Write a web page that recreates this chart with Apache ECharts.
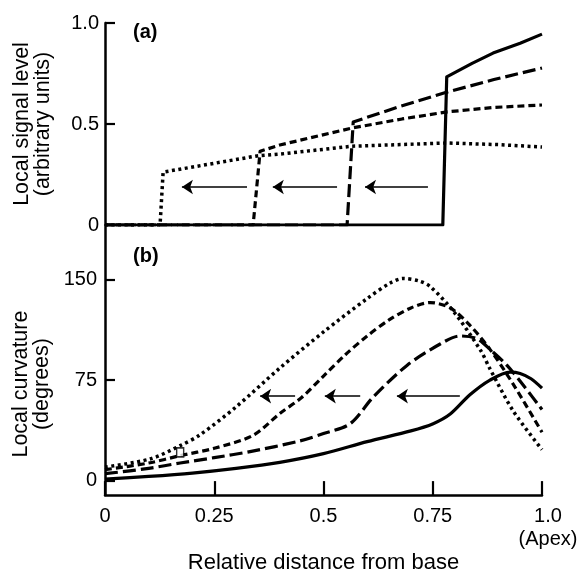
<!DOCTYPE html>
<html>
<head>
<meta charset="utf-8">
<script src="https://cdn.jsdelivr.net/npm/echarts@6/dist/echarts.min.js"></script>
<style>
html,body{margin:0;padding:0;background:#fff;}
#chart{width:581px;height:575px;}
</style>
</head>
<body>
<div id="chart"></div>
<script>
// ---- Data ----
// Panel (a): local signal level vs relative distance
var solidA  = [[0,0],[0.773,0],[0.782,0.733],[0.84,0.80],[0.888,0.851],[0.95,0.90],[1.0,0.945]];
var longA   = [[0,0],[0.554,0],[0.568,0.51],[0.675,0.587],[0.783,0.658],[0.89,0.72],[1.0,0.777]];
var shortA  = [[0,0],[0.339,0],[0.355,0.365],[0.40,0.396],[0.565,0.48],[0.68,0.525],[0.783,0.56],[0.89,0.582],[1.0,0.594]];
var dottedA = [[0,0],[0.126,0],[0.133,0.262],[0.348,0.342],[0.40,0.351],[0.565,0.39],[0.783,0.406],[0.9,0.398],[1.0,0.386]];
// Panel (b): local curvature (degrees)
var solidB  = [[0,1],[0.1,3],[0.2,5.5],[0.3,9],[0.4,13.5],[0.5,20],[0.6,29],[0.7,37],[0.751,42.4],[0.79,49.6],[0.835,64],[0.881,75],[0.927,81],[0.95,80],[0.975,76],[1.0,69]];
var longB   = [[0,5],[0.1,9],[0.172,13],[0.25,17],[0.332,21.5],[0.446,29.5],[0.5,35],[0.561,42.4],[0.613,62],[0.691,86],[0.767,102],[0.812,108],[0.851,106],[0.881,98],[0.92,86],[0.96,70],[1.0,53]];
var shortB  = [[0,8],[0.1,13],[0.172,18.5],[0.25,24],[0.339,33.7],[0.4,50],[0.45,62],[0.5,78],[0.55,94],[0.6,108],[0.65,120],[0.7,129],[0.744,133],[0.79,129],[0.835,116],[0.881,98],[0.934,72],[1.0,36]];
var dottedB = [[0,10],[0.103,16],[0.172,26],[0.217,34],[0.3,55],[0.4,84],[0.5,111],[0.6,136],[0.652,147.5],[0.682,151],[0.72,149],[0.744,145],[0.796,127],[0.86,97],[0.88,84],[0.934,52],[1.0,23]];
var squareB = [[0.172,21]];
// Arrows (from x -> to x) and their heights
var arrowsA = [[0.325,0.176],[0.531,0.384],[0.739,0.595]];
var arrowAY = 0.188;
var arrowsB = [[0.435,0.355],[0.584,0.503],[0.812,0.668]];
var arrowBY = 63;
// Tick labels
var xTickValues = [0, 0.25, 0.5, 0.75, 1];
var xTickLabels = ['0', '0.25', '0.5', '0.75', '1.0\n(Apex)'];
var yTickValuesA = [0, 0.5, 1];
var yTickLabelsA = ['0', '0.5', '1.0'];
var yTickValuesB = [0, 75, 150];
var yTickLabelsB = ['0', '75', '150'];

var FONT = "'Liberation Sans', Arial, Helvetica, sans-serif";
var chart = echarts.init(document.getElementById('chart'), null, {renderer:'canvas'});

function lineSeries(data, xi, type, width, smooth) {
  return {
    type: 'line', xAxisIndex: xi, yAxisIndex: xi, data: data,
    showSymbol: false, symbol: 'none', smooth: smooth, animation: false,
    lineStyle: {color: '#000', width: width, type: type, cap: 'butt', join: 'round'}
  };
}
function arrowSeries(arr, y, xi) {
  return {
    type: 'lines', coordinateSystem: 'cartesian2d', xAxisIndex: xi, yAxisIndex: xi,
    symbol: ['none', 'arrow'], symbolSize: [0, 11], animation: false, silent: true,
    lineStyle: {color: '#000', width: 1.6, opacity: 1, curveness: 0},
    data: arr.map(function (a) { return {coords: [[a[0], y], [a[1], y]]}; })
  };
}

var axisLineStyle = {color: '#000', width: 2.5};
var tickStyle = {color: '#000', width: 2.2};
var labelStyle = {color: '#000', fontFamily: FONT, fontSize: 20};

var option = {
  backgroundColor: '#fff',
  animation: false,
  grid: [
    {left: 105, right: 39, top: 23, height: 202, containLabel: false},
    {left: 105, right: 39, top: 225, height: 279, containLabel: false}
  ],
  xAxis: [
    {gridIndex: 0, type: 'value', min: 0, max: 1, show: true,
     axisLine: {show: false}, axisTick: {show: false}, axisLabel: {show: false}, splitLine: {show: false}},
    {gridIndex: 1, type: 'value', min: 0, max: 1, interval: 0.25,
     axisLine: {show: true, onZero: false, lineStyle: axisLineStyle},
     axisTick: {show: true, inside: true, length: 14, lineStyle: tickStyle},
     axisLabel: Object.assign({margin: 10, lineHeight: 23,
       rich: {apex: {color: '#000', fontFamily: FONT, fontSize: 20, lineHeight: 23, padding: [0, 0, 0, 12]}},
       formatter: function (v) {
         var i = xTickValues.indexOf(v);
         if (i < 0) return '';
         var s = xTickLabels[i];
         return s.indexOf('\n') >= 0 ? s.split('\n').map(function (t) { return '{apex|' + t + '}'; }).join('\n') : s;
       }}, labelStyle),
     splitLine: {show: false},
     name: 'Relative distance from base', nameLocation: 'middle', nameGap: 50,
     nameTextStyle: {color: '#000', fontFamily: FONT, fontSize: 22}}
  ],
  yAxis: [
    {gridIndex: 0, type: 'value', min: 0, max: 1, interval: 0.5,
     axisLine: {show: true, onZero: false, lineStyle: axisLineStyle},
     axisTick: {show: true, inside: true, length: 10, lineStyle: tickStyle},
     axisLabel: Object.assign({margin: 6,
       formatter: function (v) { var i = yTickValuesA.indexOf(v); return i >= 0 ? yTickLabelsA[i] : ''; }}, labelStyle),
     splitLine: {show: false},
     name: 'Local signal level\n(arbitrary units)', nameLocation: 'middle', nameRotate: 90, nameGap: 51,
     nameTextStyle: {color: '#000', fontFamily: FONT, fontSize: 21.5, lineHeight: 21}},
    {gridIndex: 1, type: 'value', min: -11, max: 191,
     axisLine: {show: true, onZero: false, lineStyle: axisLineStyle},
     axisTick: {show: true, inside: true, length: 10, lineStyle: tickStyle, customValues: yTickValuesB},
     axisLabel: Object.assign({margin: 8, customValues: yTickValuesB,
       formatter: function (v) { var i = yTickValuesB.indexOf(v); return i >= 0 ? yTickLabelsB[i] : ''; }}, labelStyle),
     splitLine: {show: false},
     name: 'Local curvature\n(degrees)', nameLocation: 'middle', nameRotate: 90, nameGap: 51,
     nameTextStyle: {color: '#000', fontFamily: FONT, fontSize: 21.5, lineHeight: 21, padding: [0, 48, 0, 0]}}
  ],
  graphic: [
    {type: 'text', left: 133, top: 22, style: {text: '(a)', fill: '#000', font: 'bold 20px ' + FONT}},
    {type: 'text', left: 133, top: 246, style: {text: '(b)', fill: '#000', font: 'bold 20px ' + FONT}}
  ],
  series: [
    lineSeries(dottedA, 0, [3, 3.5], 3.5, false),
    lineSeries(shortA, 0, [7, 4], 3.2, false),
    lineSeries(longA, 0, [13, 5], 3.2, false),
    lineSeries(solidA, 0, 'solid', 3.2, false),
    lineSeries(dottedB, 1, [3, 3.5], 3.5, 0.3),
    lineSeries(shortB, 1, [7, 4], 3.2, 0.3),
    lineSeries(longB, 1, [13, 5], 3.2, 0.3),
    lineSeries(solidB, 1, 'solid', 3.2, 0.3),
    {type: 'scatter', xAxisIndex: 1, yAxisIndex: 1, data: squareB, symbol: 'rect', symbolSize: [7, 9],
     animation: false, silent: true, z: 5,
     itemStyle: {color: '#fff', borderColor: '#000', borderWidth: 1.6}},
    arrowSeries(arrowsA, arrowAY, 0),
    arrowSeries(arrowsB, arrowBY, 1)
  ]
};
chart.setOption(option);
</script>
</body>
</html>
